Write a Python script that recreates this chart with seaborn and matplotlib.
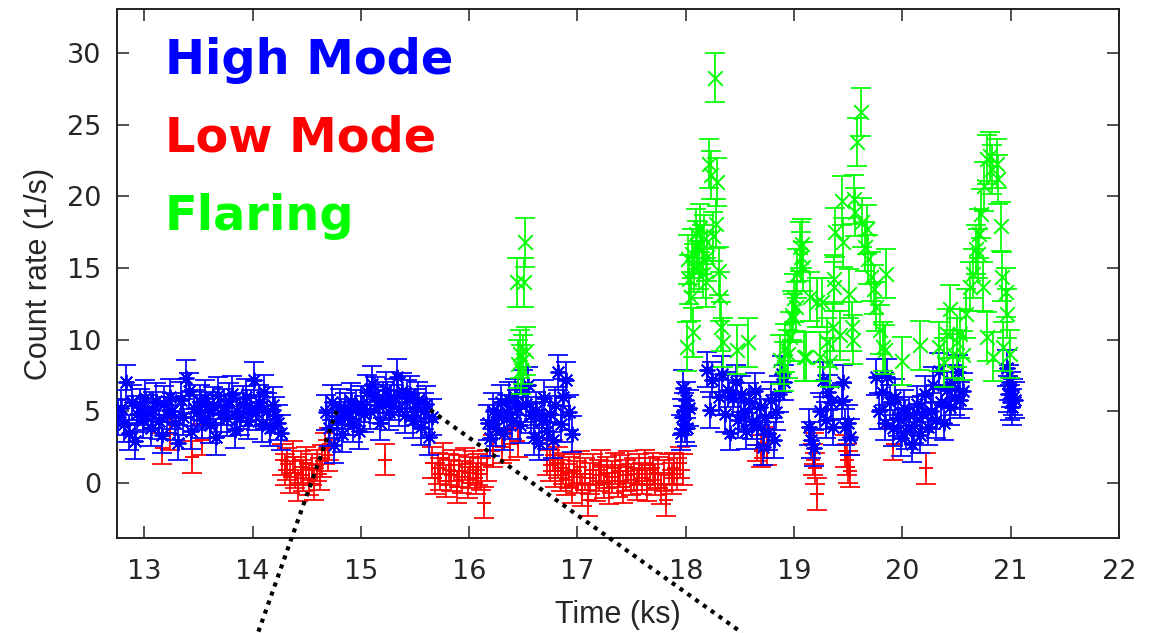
import numpy as np
import pandas as pd
import seaborn as sns
import matplotlib.pyplot as plt

# ---- light curve values (time in ks, rate in 1/s) ----

# high mode (blue)
high_t = [
    # 12.7 - 14.3
    12.760, 12.785, 12.810, 12.835, 12.860, 12.885, 12.910, 12.935, 12.960, 12.985,
    13.010, 13.035, 13.060, 13.085, 13.110, 13.135, 13.160, 13.185, 13.210, 13.235,
    13.260, 13.285, 13.310, 13.335, 13.360, 13.385, 13.410, 13.435, 13.460, 13.485,
    13.510, 13.535, 13.560, 13.585, 13.610, 13.635, 13.660, 13.685, 13.710, 13.735,
    13.760, 13.785, 13.810, 13.835, 13.860, 13.885, 13.910, 13.935, 13.960, 13.985,
    14.010, 14.035, 14.060, 14.085, 14.110, 14.135, 14.160, 14.185, 14.210, 14.235,
    14.260,
    # 14.7 - 15.7
    14.680, 14.705, 14.730, 14.755, 14.780, 14.805, 14.830, 14.855, 14.880, 14.905,
    14.930, 14.955, 14.980, 15.005, 15.030, 15.055, 15.080, 15.105, 15.130, 15.155,
    15.180, 15.205, 15.230, 15.255, 15.280, 15.305, 15.330, 15.355, 15.380, 15.405,
    15.430, 15.455, 15.480, 15.505, 15.530, 15.555, 15.580, 15.605, 15.630, 15.655,
    # 16.2 - 16.95
    16.170, 16.195, 16.220, 16.245, 16.270, 16.295, 16.320, 16.345, 16.370, 16.395,
    16.420, 16.445, 16.470, 16.495, 16.520, 16.545, 16.570, 16.595, 16.620, 16.645,
    16.670, 16.695, 16.720, 16.745, 16.770, 16.795, 16.820, 16.845, 16.870, 16.895,
    16.920, 16.945,
    # 18.0
    17.955, 17.965, 17.975, 17.985, 17.995, 18.005, 18.015, 18.030,
    # 18.2 - 18.9
    18.200, 18.225, 18.240, 18.310, 18.335, 18.360, 18.385, 18.410, 18.435, 18.460,
    18.485, 18.510, 18.535, 18.560, 18.585, 18.610, 18.635, 18.660, 18.685, 18.710,
    18.735, 18.760, 18.785, 18.810, 18.835, 18.860, 18.885, 18.905,
    # 19.1 - 19.5
    19.140, 19.160, 19.185, 19.240, 19.265, 19.290, 19.315, 19.340, 19.360, 19.440,
    19.450, 19.470, 19.495, 19.515,
    # 19.75 - 20.55
    19.760, 19.785, 19.810, 19.835, 19.860, 19.885, 19.910, 19.935, 19.960, 19.985,
    20.010, 20.035, 20.060, 20.085, 20.110, 20.135, 20.160, 20.185, 20.210, 20.235,
    20.260, 20.285, 20.310, 20.335, 20.360, 20.385, 20.410, 20.435, 20.460, 20.485,
    20.510, 20.535, 20.560,
    # 21.0
    20.965, 20.975, 20.985, 20.995, 21.005, 21.015, 21.025, 21.035,
]
high_rate = [
    4.6, 5.2, 4.1, 7.0, 3.5, 5.6, 2.9, 4.8, 5.3, 4.4,
    5.9, 4.9, 3.8, 5.1, 5.7, 4.3, 3.3, 5.5, 4.7, 6.0,
    5.0, 4.2, 2.8, 5.8, 4.6, 7.3, 6.4, 3.6, 5.2, 4.9,
    5.6, 4.4, 5.9, 5.1, 4.0, 5.4, 3.2, 6.1, 4.8, 5.3,
    4.5, 5.7, 6.2, 3.7, 5.0, 4.6, 5.5, 6.0, 4.3, 5.2,
    7.2, 4.9, 5.6, 4.1, 6.3, 5.0, 3.8, 5.4, 4.7, 4.2,
    3.5,
    4.9, 3.8, 5.6, 2.6, 4.4, 5.3, 3.4, 5.0, 4.6, 5.7,
    4.1, 5.2, 3.6, 5.5, 4.8, 6.3, 5.0, 6.9, 6.1, 5.4,
    4.2, 5.8, 6.5, 4.9, 5.6, 6.0, 7.4, 5.2, 6.4, 4.7,
    5.9, 6.2, 4.4, 5.3, 5.8, 3.9, 5.0, 5.5, 3.2, 4.6,
    4.2, 3.1, 5.0, 3.8, 4.6, 5.6, 3.5, 4.9, 5.8, 4.3,
    6.0, 5.2, 4.0, 6.6, 5.5, 6.8, 4.7, 3.2, 5.1, 2.8,
    4.4, 5.9, 3.6, 4.8, 3.0, 5.4, 7.7, 4.1, 6.0, 7.2,
    4.9, 3.4,
    3.5, 4.6, 6.6, 5.0, 4.1, 5.8, 3.8, 5.2,
    7.9, 5.1, 7.2, 6.0, 7.6, 4.8, 6.5, 3.5, 5.9, 7.0,
    4.4, 6.2, 5.0, 3.6, 5.7, 4.3, 6.4, 3.9, 5.3, 2.5,
    4.6, 3.5, 5.8, 3.0, 4.9, 6.2, 7.6, 7.0,
    3.9, 3.0, 2.4, 5.0, 7.2, 4.4, 6.3, 5.6, 3.9, 5.7,
    7.0, 3.9, 4.2, 3.2,
    7.4, 5.0, 6.3, 4.2, 7.4, 5.6, 3.8, 6.0, 4.5, 3.1,
    5.2, 3.6, 4.7, 2.7, 4.0, 5.5, 3.3, 4.8, 6.2, 3.9,
    5.0, 6.8, 4.4, 7.8, 5.6, 4.2, 6.5, 5.3, 7.0, 6.0,
    7.7, 5.8, 6.4,
    8.0, 6.2, 7.0, 5.6, 6.5, 5.3, 6.0, 5.8,
]

# low mode (red)
low_t = [
    13.160, 13.240, 13.440, 13.530,
    14.270, 14.295, 14.320, 14.345, 14.370, 14.395, 14.420, 14.445, 14.470, 14.495,
    14.520, 14.545, 14.570, 14.595, 14.620, 14.645, 14.670, 14.695, 14.710,
    15.220,
    15.660, 15.685, 15.710, 15.735, 15.760, 15.785, 15.810, 15.835, 15.860, 15.885,
    15.910, 15.935, 15.960, 15.985, 16.010, 16.035, 16.060, 16.085, 16.110, 16.135,
    16.160,
    16.220, 16.300, 16.380, 16.450,
    16.720, 16.745, 16.770, 16.795, 16.820, 16.845, 16.870, 16.895, 16.920, 16.945,
    16.970, 16.995, 17.020, 17.045, 17.070, 17.095, 17.120, 17.145, 17.170, 17.195,
    17.220, 17.245, 17.270, 17.295, 17.320, 17.345, 17.370, 17.395, 17.420, 17.445,
    17.470, 17.495, 17.520, 17.545, 17.570, 17.595, 17.620, 17.645, 17.670, 17.695,
    17.720, 17.745, 17.770, 17.795, 17.820, 17.845, 17.870, 17.895, 17.920, 17.945,
    17.970,
    18.660, 18.690, 18.720, 18.750,
    19.170, 19.180, 19.195, 19.215,
    19.470, 19.485, 19.500, 19.515,
    19.910, 20.220,
]
low_rate = [
    2.4, 3.4, 1.8, 3.0,
    1.6, 0.9, 1.3, 0.4, 1.8, 0.7, -0.2, 1.1, 0.5, 1.4,
    0.2, 0.9, -0.1, 1.2, 0.6, 1.5, 2.4, 1.9, 2.7,
    1.6,
    1.4, 0.3, 1.0, 0.6, 1.7, 0.1, 0.9, 0.5, 1.2, -0.3,
    0.8, 0.4, 1.3, 0.0, 0.7, 1.1, 0.3, 0.9, 0.6, -1.4,
    1.2,
    2.2, 2.5, 2.7, 2.9,
    1.6, 1.2, 1.9, 0.8, 1.4, 0.5, 1.0, 0.2, 0.7, -0.3,
    0.9, 0.4, 1.1, -0.5, 0.6, -1.2, 0.3, 0.9, -0.2, 0.5,
    1.2, 0.0, 0.7, -0.4, 0.4, 1.0, 0.1, 0.8, -0.3, 0.5,
    1.1, 0.2, 0.6, -0.1, 0.9, 0.3, 1.2, -0.2, 0.6, 1.0,
    0.2, 0.7, -0.4, 0.5, -1.2, 0.9, 0.3, 1.0, 0.6, 1.4,
    0.9,
    2.6, 2.2, 2.8, 2.3,
    1.6, 2.4, 1.0, -0.8,
    2.2, 1.6, 1.1, 0.8,
    2.7, 1.0,
]

# flaring (green)
flare_t = [
    16.440, 16.450, 16.465, 16.480, 16.495, 16.505, 16.515, 16.525,
    18.010, 18.020, 18.030, 18.045, 18.055, 18.070, 18.080, 18.095, 18.105, 18.120,
    18.130, 18.145, 18.155, 18.170, 18.185, 18.200, 18.215, 18.230, 18.250, 18.265,
    18.280, 18.290, 18.305, 18.315, 18.325, 18.340, 18.470, 18.575,
    18.870, 18.905, 18.915, 18.940, 18.960, 18.980, 18.990, 19.000, 19.020, 19.030,
    19.050, 19.060, 19.075, 19.080, 19.095, 19.110, 19.150, 19.210, 19.240, 19.260,
    19.300, 19.330, 19.360, 19.365, 19.370, 19.380, 19.420, 19.440, 19.450, 19.510,
    19.530, 19.540, 19.550, 19.560, 19.580, 19.620, 19.625, 19.650, 19.670, 19.680,
    19.710, 19.740, 19.760, 19.790, 19.820, 19.840, 19.850,
    20.000, 20.160,
    20.340, 20.380, 20.410, 20.440, 20.470, 20.500, 20.530, 20.560, 20.590, 20.620,
    20.650, 20.680, 20.700, 20.710, 20.730, 20.740, 20.750, 20.780, 20.785, 20.810,
    20.830, 20.835, 20.870, 20.880, 20.910, 20.915, 20.930, 20.960, 20.965, 20.990,
]
flare_rate = [
    14.0, 8.3, 9.0, 7.9, 8.6, 14.0, 16.8, 9.2,
    9.5, 15.6, 14.2, 13.0, 16.0, 10.5, 15.0, 17.4, 16.6, 15.2,
    17.8, 16.3, 14.6, 17.0, 14.0, 15.8, 22.3, 21.5, 17.2, 28.3,
    18.1, 21.0, 14.8, 13.0, 10.9, 9.8, 9.3, 9.8,
    8.6, 8.1, 9.4, 9.0, 10.2, 11.7, 11.5, 12.9, 12.3, 14.6,
    16.5, 15.8, 16.7, 15.1, 8.8, 8.8, 13.0, 12.6, 8.8, 12.6,
    9.8, 8.4, 10.9, 13.7, 14.2, 17.5, 10.3, 19.7, 16.8, 13.2,
    10.9, 10.0, 19.8, 18.9, 23.8, 25.9, 18.2, 16.5, 17.7, 15.6,
    14.4, 13.5, 12.3, 10.7, 9.5, 9.3, 14.6,
    8.5, 9.6,
    9.5, 8.4, 10.4, 12.1, 9.0, 9.8, 10.4, 8.9, 11.8, 13.7,
    14.6, 16.3, 16.0, 17.4, 18.8, 13.7, 20.7, 22.6, 10.2, 22.8,
    21.9, 8.8, 22.3, 21.2, 17.9, 14.4, 9.5, 13.3, 11.8, 9.0,
]

high_err = 1.25
low_err = 1.1
flare_err = 1.7

# dotted guides running out of the frame towards a zoomed panel below
guide_left_x = [14.776, 14.05]
guide_left_y = [5.01, -10.5]
guide_right_x = [15.64, 18.52]
guide_right_y = [5.08, -10.5]

df = pd.concat([
    pd.DataFrame({"time": low_t, "rate": low_rate, "err": low_err, "mode": "Low Mode"}),
    pd.DataFrame({"time": high_t, "rate": high_rate, "err": high_err, "mode": "High Mode"}),
    pd.DataFrame({"time": flare_t, "rate": flare_rate, "err": flare_err, "mode": "Flaring"}),
], ignore_index=True)

colors = {"High Mode": "#0000ff", "Low Mode": "#ff0000", "Flaring": "#00ff00"}
markers = {"High Mode": (8, 2, 0), "Low Mode": "+", "Flaring": "x"}

sns.set_style("ticks", {"xtick.direction": "in", "ytick.direction": "in",
                        "axes.edgecolor": "#222222"})
plt.rcParams["font.family"] = ["DejaVu Sans"]

fig = plt.figure(figsize=(11.63, 6.33), dpi=100)
ax = fig.add_axes([0.1003, 0.1501, 0.8619, 0.8357])

for i, mode in enumerate(["Low Mode", "High Mode", "Flaring"]):
    sub = df[df["mode"] == mode]
    ax.errorbar(sub["time"], sub["rate"], yerr=sub["err"], fmt="none",
                ecolor=colors[mode], elinewidth=1.25, capsize=7, capthick=1.25,
                zorder=2 + 2 * i)
    sns.scatterplot(data=sub, x="time", y="rate", marker=markers[mode],
                    color=colors[mode], s=110, linewidth=1.35, ax=ax,
                    legend=False, zorder=3 + 2 * i)

ax.plot(guide_left_x, guide_left_y, color="black", linestyle=(0, (1, 1.3)),
        linewidth=3.0, clip_on=False, zorder=10)
ax.plot(guide_right_x, guide_right_y, color="black", linestyle=(0, (1, 1.3)),
        linewidth=3.0, clip_on=False, zorder=10)

ax.set_xlim(12.745, 22)
ax.set_ylim(-3.87, 33.1)
ax.set_xticks(range(13, 23))
ax.set_yticks(range(0, 31, 5))
ax.tick_params(which="major", direction="in", length=8.5, width=1.1,
               top=True, right=True, labelsize=19.5, color="#222222")
ax.tick_params(axis="x", pad=15)
ax.tick_params(axis="y", pad=11)
for sp in ax.spines.values():
    sp.set_linewidth(1.4)

ax.set_xlabel("Time (ks)", fontsize=22, family="Liberation Sans", labelpad=11)
ax.set_ylabel("Count rate (1/s)", fontsize=22, family="Liberation Sans")
ax.yaxis.set_label_coords(-0.0625, 0.5)

ax.text(0.048, 0.877, "High Mode", transform=ax.transAxes, color=colors["High Mode"],
        fontsize=34.5, fontweight="bold", va="baseline")
ax.text(0.048, 0.730, "Low Mode", transform=ax.transAxes, color=colors["Low Mode"],
        fontsize=34.5, fontweight="bold", va="baseline")
ax.text(0.048, 0.582, "Flaring", transform=ax.transAxes, color=colors["Flaring"],
        fontsize=34.5, fontweight="bold", va="baseline")

fig.savefig("out.png", dpi=100)
